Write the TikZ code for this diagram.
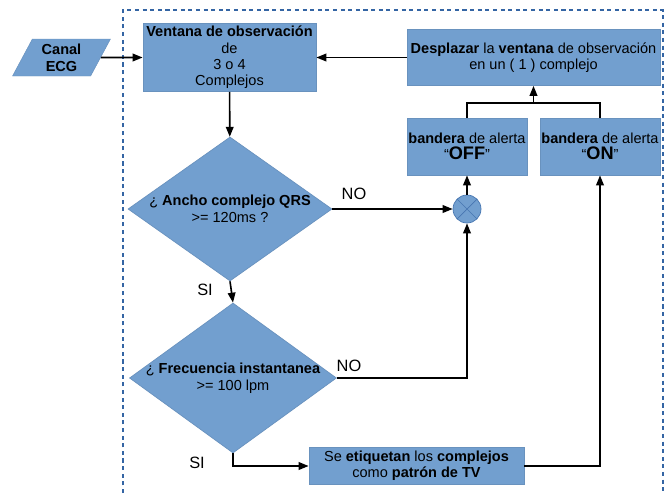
\documentclass[tikz,border=0pt]{standalone}
\usepackage{fontspec}
\setmainfont{Liberation Sans}
\usetikzlibrary{shapes.geometric, arrows.meta, positioning, calc}
\definecolor{boxblue}{HTML}{729FCF}
\definecolor{frameblue}{HTML}{3465A4}
\tikzset{
  proc/.style={rectangle, fill=boxblue, draw=boxblue!92!black, line width=0.6pt,
    inner sep=0pt, align=center, font=\fontsize{12.4}{14}\selectfont},
  decision/.style={diamond, fill=boxblue, draw=boxblue!92!black, line width=0.6pt, inner sep=0pt},
  xcircle/.style={circle, minimum size=0.84cm, inner sep=0pt, fill=boxblue,
    draw=frameblue!70!boxblue, line width=0.6pt,
    path picture={\draw[frameblue!70!boxblue, line width=0.6pt]
      (path picture bounding box.center) ++(45:0.42cm) -- ++(225:0.84cm)
      (path picture bounding box.center) ++(135:0.42cm) -- ++(315:0.84cm);}},
  flow/.style={line width=1.4pt, -{Triangle[length=8.5pt,width=6.5pt]}},
  tag/.style={font=\fontsize{14}{16}\selectfont},
}
\newcommand{\bigword}[1]{{\bfseries\fontsize{15.5}{16}\selectfont #1}}

\begin{document}
\begin{tikzpicture}[x=0.03cm, y=-0.03cm]
\useasboundingbox (0,0) rectangle (667,493);

% observation frame
\draw[frameblue, line width=1.2pt, dash pattern=on 3.5pt off 3pt] (123,493) |- (663,10) -- (663,493);

% input
\node[trapezium, trapezium left angle=64, trapezium right angle=116, trapezium stretches=true,
  minimum width=2.94cm, minimum height=1.11cm, inner sep=0pt, fill=boxblue, draw=boxblue!92!black,
  align=center, font=\bfseries\fontsize{12.4}{14.5}\selectfont] (canal) at (61.5,57.5) {Canal\\ECG};

% window and shift
\node[proc, minimum width=5.19cm, minimum height=2.04cm] (ventana) at (229.5,57.5)
  {\textbf{Ventana de observación}\\de\\3 o 4\\Complejos};
\node[proc, minimum width=7.59cm, minimum height=1.68cm] (desplazar) at (533.5,57.5)
  {\textbf{Desplazar} la \textbf{ventana} de observación\\en un ( 1 ) complejo};

% alert flags
\node[proc, minimum width=3.6cm, minimum height=1.71cm] (off) at (467,146.5)
  {\textbf{bandera} de alerta\\“\bigword{OFF}”};
\node[proc, minimum width=3.6cm, minimum height=1.71cm] (on) at (600,146.5)
  {\textbf{bandera} de alerta\\“\bigword{ON}”};
\node[xcircle] (cross) at (467,209) {};

% decisions
\node[decision, minimum width=6.12cm, minimum height=4.32cm,
  label={[align=center, font=\fontsize{12.4}{14.5}\selectfont]center:¿ \textbf{Ancho complejo QRS}\\>= 120ms ?}]
  (q1) at (230,209) {};
\node[decision, minimum width=6.21cm, minimum height=4.5cm,
  label={[align=center, font=\fontsize{12.4}{14.5}\selectfont]center:¿ \textbf{Frecuencia instantanea}\\>= 100 lpm}]
  (q2) at (233,378) {};

% result
\node[proc, minimum width=6.45cm, minimum height=1.11cm] (tv) at (416.5,466)
  {Se \textbf{etiquetan} los \textbf{complejos}\\como \textbf{patrón de TV}};

% branch tags
\node[tag] (no1) at (354,194) {NO};
\node[tag] (si1) at (205,290) {SI};
\node[tag] (no2) at (349,366) {NO};
\node[tag] (si2) at (197,463) {SI};

% connectors
\draw[flow] (canal) -- (ventana);
\draw[flow] (desplazar) -- (ventana);
\draw[flow] (ventana) -- (q1);
\draw[flow] (q1) -- (cross);
\draw[flow] (q1.south) -- (q2.north);
\draw[flow] (q2.east) -| (cross.south);
\draw[flow] (cross) -- (off);
\draw[flow] (q2.south) |- (tv.west);
\draw[flow] (tv.east) -| (on.south);
\coordinate (join) at (533.5,103);
\draw[line width=1.4pt] (off.north) |- (join) -| (on.north);
\draw[flow] (join) -- (desplazar.south);
\end{tikzpicture}
\end{document}
